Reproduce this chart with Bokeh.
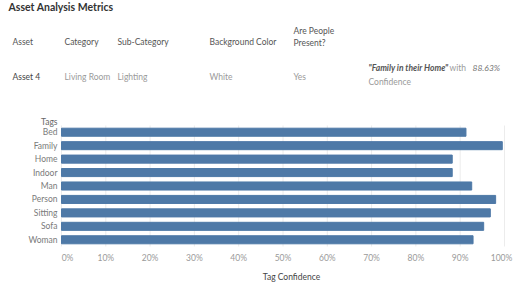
from bokeh.plotting import figure
from bokeh.models import Range1d
from bokeh.core.properties import value
from bokeh.embed import file_html
from bokeh.resources import INLINE

tags = ["Bed", "Family", "Home", "Indoor", "Man", "Person", "Sitting", "Sofa", "Woman"]
confidence = [0.913, 0.995, 0.882, 0.882, 0.926, 0.980, 0.968, 0.953, 0.929]
x_ticks = [0.0, 0.1, 0.2, 0.3, 0.4, 0.5, 0.6, 0.7, 0.8, 0.9, 1.0]
x_tick_labels = ["0%", "10%", "20%", "30%", "40%", "50%", "60%", "70%", "80%", "90%", "100%"]

title = "Asset Analysis Metrics"
headers = ["Asset", "Category", "Sub-Category", "Background Color"]
header_people = ["Are People", "Present?"]
values = ["Asset 4", "Living Room", "Lighting", "White", "Yes"]
caption = "Family in their Home"
caption_pct = "88.63%"

W, H = 513, 282
FONT = "Lato"
FS = "8.5px"
BAR = "#4e79a7"
# chart band in canvas pixels
FL, FR, FT, FB = 61, 504, 125, 246

pw = FR - FL
slot = (FB - FT) / len(tags)
x_rng = Range1d(-FL / pw, 1 + (W - FR) / pw)
y_rng = Range1d((H - FT) / slot - 0.5, (0 - FT) / slot - 0.5)

p = figure(width=W, height=H, x_range=x_rng, y_range=y_rng,
           output_backend="svg", toolbar_location=None,
           min_border=0, min_border_left=0, min_border_right=0,
           min_border_top=0, min_border_bottom=0)
p.extra_x_ranges = {"px": Range1d(0, W)}
p.extra_y_ranges = {"px": Range1d(H, 0)}
p.axis.visible = False
p.grid.visible = False
p.outline_line_color = None

idx = list(range(len(tags)))

# grid lines at tick values, spanning the category band
p.segment(x0=x_ticks, x1=x_ticks, y0=[-0.5] * len(x_ticks), y1=[len(tags) - 0.5] * len(x_ticks),
          line_color="#ececec", line_width=1)
# bars
p.hbar(y=idx, right=confidence, left=0, height=0.6, color=BAR)

# category labels
p.text(x=[FL - 4] * len(tags), y=idx, text=tags, x_range_name="px",
       text_font=value(FONT), text_font_size=FS, text_color="#7a7a7a",
       text_align="right", text_baseline="middle")
# tick labels (first nudged right, last nudged left as in the original)
offsets = [6] + [0] * (len(x_ticks) - 2) + [-3]
p.text(x=x_ticks, y=[257] * len(x_ticks), text=x_tick_labels, y_range_name="px",
       x_offset=offsets,
       text_font=value(FONT), text_font_size=FS, text_color="#9a9a9a",
       text_align="center", text_baseline="middle")


def txt(t, x, y, color="#555555", style="normal", size=FS, align="left"):
    p.text(x=[x], y=[y], text=[t], x_range_name="px", y_range_name="px",
           text_font=value(FONT), text_font_size=size,
           text_color=color, text_font_style=style, text_baseline="middle", text_align=align)


txt(title, 8, 6, color="#333333", style="bold", size="10.5px")
for t, x in zip(headers, [12, 64, 117, 209]):
    txt(t, x, 41)
txt(header_people[0], 293, 30)
txt(header_people[1], 293, 42)
for i, (t, x) in enumerate(zip(values, [12, 64, 117, 209, 293])):
    txt(t, x, 76, color="#444444" if i == 0 else "#9a9a9a")
txt('"' + caption + '"', 368, 67, color="#555555", style="bold italic")
txt("with", 449, 67, color="#9a9a9a")
txt(caption_pct, 472, 67, color="#777777", style="italic")
txt("Confidence", 368, 81, color="#9a9a9a")
txt("Tags", FL - 4, 121, color="#666666", align="right")
txt("Tag Confidence", 291, 276, color="#444444", align="center")

open("out.html", "w").write(file_html(p, INLINE))
